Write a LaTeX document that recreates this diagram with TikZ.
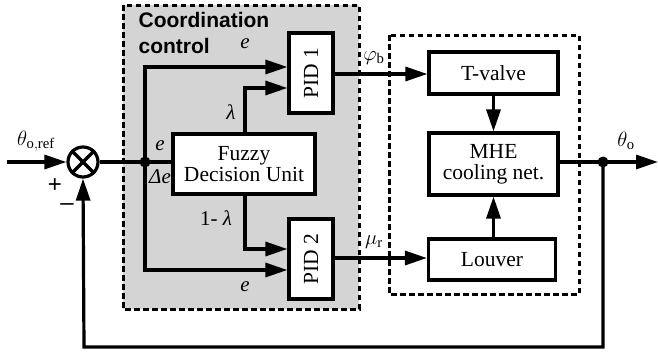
\documentclass[tikz,border=0pt]{standalone}
\usepackage{fontspec}
\setmainfont{Liberation Serif}
\newfontfamily\boldsans{Liberation Sans}
\usetikzlibrary{arrows.meta,calc}
\begin{document}
\begin{tikzpicture}[x=1pt,y=-1pt,line width=3.2pt,
  blk/.style={draw,fill=white,inner sep=0pt,font=\fontsize{21.5}{23}\selectfont,align=center},
  arr/.style={-{Triangle[length=22pt,width=14pt]}},
  dashbox/.style={draw,line width=3pt,dash pattern=on 5.5pt off 3.5pt},
  lbl/.style={font=\fontsize{21}{22}\selectfont,inner sep=0pt},
  dot/.style={circle,fill,inner sep=0pt,minimum size=11pt}]
\useasboundingbox (0,0) rectangle (658,356);
% dashed boxes
\path[dashbox,fill={rgb,255:red,212;green,212;blue,212}] (123,5) rectangle (359,309);
\path[dashbox] (389,35) rectangle (579,294);
\node[lbl,anchor=north west,align=left,font=\boldsans\bfseries\fontsize{21}{26}\selectfont] (title) at (137,11) {Coordination\\control};
% blocks
\node[blk,minimum width=44pt,minimum height=80pt] (pid1) at (311,73) {\rotatebox{90}{PID 1}};
\node[blk,minimum width=44pt,minimum height=80pt] (pid2) at (311,259) {\rotatebox{90}{PID 2}};
\node[blk,minimum width=142pt,minimum height=60pt] (fuzzy) at (244,164) {Fuzzy\\[-2pt]Decision Unit};
\node[blk,minimum width=129pt,minimum height=42pt] (tv) at (493.5,73) {T-valve};
\node[blk,minimum width=129pt,minimum height=62pt] (mhe) at (493.5,164) {MHE\\[-2pt]cooling net.};
\node[blk,minimum width=127pt,minimum height=41pt] (louver) at (492,259.5) {Louver};
% sum
\node[draw,circle,minimum size=30pt,inner sep=0pt] (sum) at (83,162) {};
\draw (sum.north west) -- (sum.south east) (sum.north east) -- (sum.south west);
\coordinate (in) at (7,162);
\coordinate (j) at (145,162);
\coordinate (jo) at (603,162);
\coordinate (out) at (658,162);
\coordinate (fb) at (603,347);
\coordinate (fb2) at (84,347);
\draw[arr] (in) -- (sum.west);
\draw (sum.east) -- (j) -- (fuzzy.west |- j);
\draw[arr] (j) |- ($(pid1.west)+(0,-6)$);
\draw[arr] (j) |- ($(pid2.west)+(0,11)$);
\draw[arr] (fuzzy.north -| 245,0) |- ($(pid1.west)+(0,15)$);
\draw[arr] (fuzzy.south -| 245,0) |- ($(pid2.west)+(0,-10)$);
\draw[arr] ($(pid1.east)+(0,1)$) -- (tv.west |- 0,74);
\draw[arr] ($(pid2.east)+(0,-1)$) -- (louver.west |- 0,258);
\draw[arr] (tv.south) -- (mhe.north);
\draw[arr] (louver.north -| mhe.south) -- (mhe.south);
\draw[arr] (mhe.east |- j) -- (out);
\draw[arr] (jo) -- (fb) -- (fb2) -- (sum.south);
\node[dot] (j1) at (j) {};
\node[dot] (j2) at (jo) {};
% labels
\node[lbl] (le1) at (245,44) {\textit{e}};
\node[lbl] (llam) at (231,112) {\textit{λ}};
\node[lbl] (le2) at (160,146) {\textit{e}};
\node[lbl] (lde) at (160,177) {\textit{Δe}};
\node[lbl] (l1lam) at (216,218) {1- \textit{λ}};
\node[lbl] (le3) at (245,287) {\textit{e}};
\node[lbl] (lphi) at (374,58) {$\varphi_{\mathrm{b}}$};
\node[lbl] (lmu) at (374,242) {$\mu_{\mathrm{r}}$};
\node[lbl] (lthr) at (36,141) {$\theta_{\mathrm{o,ref}}$};
\node[lbl] (lth) at (626,141) {$\theta_{\mathrm{o}}$};
\node[lbl,font=\boldsans\fontsize{24}{24}\selectfont] (lp) at (55,186) {+};
\node[lbl,font=\boldsans\fontsize{24}{24}\selectfont] (lm) at (67,207) {\textendash};
\end{tikzpicture}
\end{document}
